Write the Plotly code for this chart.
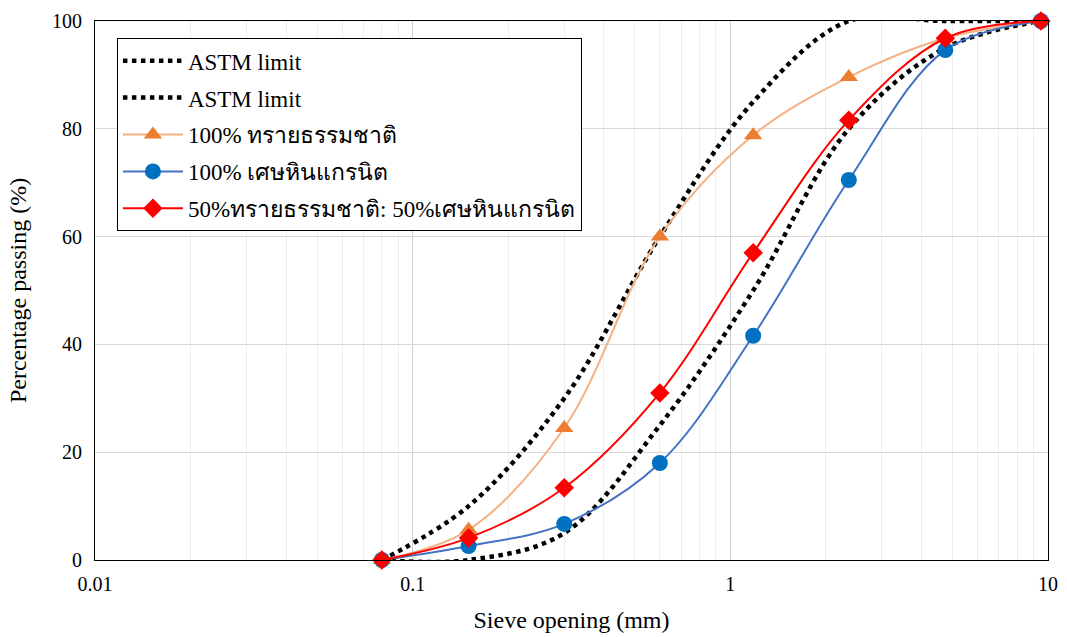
import plotly.graph_objects as go

sieve = [0.08, 0.15, 0.3, 0.6, 1.18, 2.36, 4.75, 9.5]
astm_upper = [0, 10, 30, 60, 85, 100, 100, 100]
astm_lower = [0, 0, 5, 25, 50, 80, 95, 100]
sand = [0, 5.6, 24.5, 60, 78.8, 89.6, 96.8, 100]
granite = [0, 2.6, 6.7, 18, 41.6, 70.5, 94.6, 100]
mix = [0, 4.1, 13.4, 31, 57, 81.6, 96.8, 100]

names = ["ASTM limit", "ASTM limit", "100% ทรายธรรมชาติ", "100% เศษหินแกรนิต",
         "50%ทรายธรรมชาติ: 50%เศษหินแกรนิต"]

FONT = "Liberation Serif, Times New Roman, serif"

fig = go.Figure()
fig.add_trace(go.Scatter(x=sieve, y=astm_upper, name=names[0], mode="lines", legendgroup="a",
                         line=dict(color="black", width=4.5, dash="dot", shape="spline", smoothing=1.0),
                         cliponaxis=False))
fig.add_trace(go.Scatter(x=sieve, y=astm_lower, name=names[1], mode="lines", legendgroup="b",
                         line=dict(color="black", width=4.5, dash="dot", shape="spline", smoothing=1.0),
                         cliponaxis=False))
fig.add_trace(go.Scatter(x=sieve, y=sand, name=names[2], mode="lines+markers", legendgroup="c",
                         line=dict(color="#F4B183", width=2, shape="spline", smoothing=1.0),
                         marker=dict(symbol="triangle-up", size=16, color="#ED7D31"),
                         cliponaxis=False))
fig.add_trace(go.Scatter(x=sieve, y=granite, name=names[3], mode="lines+markers", legendgroup="d",
                         line=dict(color="#4472C4", width=2, shape="spline", smoothing=1.0),
                         marker=dict(symbol="circle", size=16, color="#0070C0"),
                         cliponaxis=False))
fig.add_trace(go.Scatter(x=sieve, y=mix, name=names[4], mode="lines+markers", legendgroup="e",
                         line=dict(color="#FF0000", width=2, shape="spline", smoothing=1.0),
                         marker=dict(symbol="diamond", size=15, color="#FF0000"),
                         cliponaxis=False))

fig.update_layout(
    width=1067, height=637,
    margin=dict(l=95, r=19, t=21, b=77),
    paper_bgcolor="white", plot_bgcolor="white",
    font=dict(family=FONT, size=20, color="black"),
    showlegend=True,
    legend=dict(x=0.023, y=0.968, xanchor="left", yanchor="top",
                bgcolor="white", bordercolor="black", borderwidth=1,
                tracegroupgap=4, itemwidth=60,
                font=dict(family=FONT, size=23)),
    xaxis=dict(type="log", range=[-2, 1], tickvals=[0.01, 0.1, 1, 10],
               ticktext=["0.01", "0.1", "1", "10"], automargin=False,
               showgrid=True, gridcolor="#d0d0d0", gridwidth=1,
               minor=dict(showgrid=True, gridcolor="#eeeeee", dtick="D1"),
               showline=True, linecolor="black", linewidth=1, mirror=True,
               ticks="", zeroline=False, ticklabelstandoff=6,
               title=dict(text="Sieve opening (mm)", standoff=17)),
    yaxis=dict(range=[0, 100], tickvals=[0, 20, 40, 60, 80, 100], automargin=False,
               showgrid=True, gridcolor="#d9d9d9", gridwidth=1,
               showline=True, linecolor="black", linewidth=1, mirror=True,
               ticks="", zeroline=False, ticklabelstandoff=8,
               title=dict(text="Percentage passing (%)", standoff=18)),
)

fig.write_html("out.html", config={"displayModeBar": False},
               post_script="document.body.style.margin='0';document.body.style.overflow='hidden';")
